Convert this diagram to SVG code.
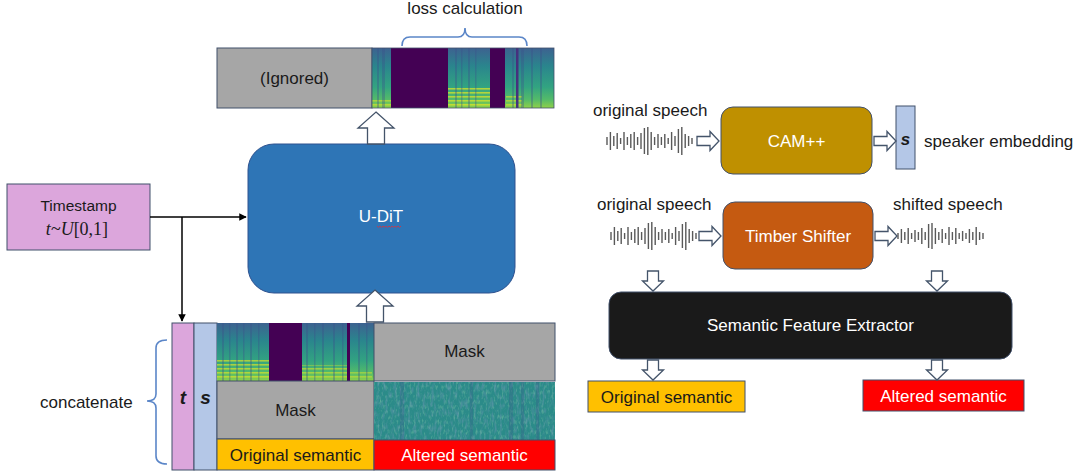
<svg xmlns="http://www.w3.org/2000/svg" width="1080" height="476" viewBox="0 0 1080 476">
<style>
  text { font-family: "Liberation Sans", Arial, sans-serif; font-size: 17px; fill: #1a1a1a; }
  .c { text-anchor: middle; }
  .w { fill: #ffffff; }
  .box { stroke: #41506b; stroke-width: 1; }
  .hollow { fill: #ffffff; stroke: #44546a; stroke-width: 1.3; stroke-linejoin: miter; }
  .brace { fill: none; stroke: #5b86c8; stroke-width: 1.6; }
  .wave { fill: none; stroke: #595959; stroke-width: 1.4; }
  .line { fill: none; stroke: #000; stroke-width: 1.5; }
  .bi { font-weight: bold; font-style: italic; font-size: 19px; }
  .stripe { fill: #3b528b; opacity: 0.35; }
</style>
<defs>
  <marker id="ah" viewBox="0 0 10 10" refX="9" refY="5" markerWidth="5" markerHeight="5" orient="auto">
    <path d="M0 0 L10 5 L0 10 Z" fill="#000"/>
  </marker>
  <linearGradient id="spec" x1="0" y1="0" x2="0" y2="1">
    <stop offset="0" stop-color="#3d6290"/>
    <stop offset="0.3" stop-color="#2a858d"/>
    <stop offset="0.65" stop-color="#32a381"/>
    <stop offset="0.86" stop-color="#54bb69"/>
    <stop offset="1" stop-color="#8fd148"/>
  </linearGradient>
  <pattern id="harm" width="6" height="4" patternUnits="userSpaceOnUse">
    <rect width="6" height="1.6" fill="#d8e22a"/>
  </pattern>
  <filter id="noise" x="0" y="0" width="100%" height="100%">
    <feTurbulence type="fractalNoise" baseFrequency="0.35 0.12" numOctaves="2" seed="4"/>
    <feColorMatrix type="matrix" values="0 0 0 0 0.24  0 0 0 0 0.33  0 0 0 0 0.55  1.6 0 0 0 -0.75"/>
  </filter>
  <filter id="noise2" x="0" y="0" width="100%" height="100%">
    <feTurbulence type="fractalNoise" baseFrequency="0.5 0.2" numOctaves="2" seed="9"/>
    <feColorMatrix type="matrix" values="0 0 0 0 0.35  0 0 0 0 0.72  0 0 0 0 0.45  0 1.6 0 0 -0.8"/>
  </filter>
  <path id="rarrow" d="M0 -4.5 H13 V-9.5 L22 0 L13 9.5 V4.5 H0 Z"/>
  <path id="darrow" d="M-5.5 0 H5.5 V10 H10.5 L0 20 L-10.5 10 H-5.5 Z"/>
  <path id="uarrow" d="M0 0 L18 16 H8.5 V32 H-8.5 V16 H-18 Z"/>
  <path id="waveA" d="M0 -4V4 M3.4 -9V9 M6.8 -5V5 M10.2 -8V8 M13.6 -3V3 M17 -9V9 M20.4 -4V4 M23.8 -7V7 M27.2 -9V9 M30.6 -4V4 M34 -8V8 M37.4 -13V13 M40.8 -14V14 M44.2 -9V9 M47.6 -4V4 M51 -7V7 M54.4 -4V4 M57.8 -7V7 M61.2 -3V3 M64.6 -9V9 M68 -5V5 M71.4 -12V12 M74.8 -14V14 M78.2 -7V7 M81.6 -5V5 M85 -3V3"/>
  <path id="waveB" d="M0 -3V3 M3.4 -7V7 M6.8 -4V4 M10.2 -8V8 M13.6 -3V3 M17 -6V6 M20.4 -4V4 M23.8 -8V8 M27.2 -4V4 M30.6 -12V12 M34 -13V13 M37.4 -8V8 M40.8 -4V4 M44.2 -7V7 M47.6 -3V3 M51 -9V9 M54.4 -4V4 M57.8 -8V8 M61.2 -3V3 M64.6 -5V5 M68 -3V3 M71.4 -7V7 M74.8 -4V4 M78.2 -9V9 M81.6 -4V4 M85 -3V3"/>
</defs>

<rect width="1080" height="476" fill="#ffffff"/>

<!-- Top output -->
<g id="output">
  <rect class="box" x="217" y="48" width="155" height="60" fill="#a6a6a6"/>
  <text class="c" x="294.5" y="84">(Ignored)</text>
  <g id="spec-top">
    <rect x="372" y="48" width="182" height="60" fill="url(#spec)"/>
    <rect x="448" y="86" width="42" height="21" fill="url(#harm)" opacity="0.75"/>
    <rect x="506" y="94" width="16" height="13" fill="url(#harm)" opacity="0.6"/>
    <rect x="372" y="100" width="19" height="7" fill="url(#harm)" opacity="0.6"/>
    <g class="stripe">
      <rect x="377" y="48" width="2" height="60"/>
      <rect x="382" y="48" width="3" height="60"/>
      <rect x="455" y="48" width="2" height="60"/>
      <rect x="461" y="48" width="1.5" height="60"/>
      <rect x="468" y="48" width="2" height="60"/>
      <rect x="475" y="48" width="1.5" height="60"/>
      <rect x="512" y="48" width="2" height="60"/>
      <rect x="521" y="48" width="3" height="60"/>
      <rect x="531" y="48" width="2" height="60"/>
      <rect x="540" y="48" width="2" height="60"/>
    </g>
    <rect x="391" y="48" width="57" height="60" fill="#440154"/>
    <rect x="490" y="48" width="15" height="60" fill="#440154"/>
    <rect x="516" y="48" width="2.5" height="60" fill="#46317e"/>
    <rect x="372" y="48" width="182" height="60" fill="none" stroke="#41506b" stroke-width="0.8"/>
  </g>
  <path class="brace" d="M402 46 Q402 37 410 37 H458 Q465 37 465 28 Q465 37 472 37 H519 Q527 37 527 46"/>
  <text class="c" x="465" y="14">loss calculation</text>
</g>

<!-- U-DiT -->
<g id="udit">
  <rect x="248" y="144" width="267" height="149" rx="26" fill="#2e75b6" stroke="#2f528f" stroke-width="1"/>
  <text class="c w" x="381" y="222">U-DiT</text>
  <path d="M377 226 l1.5 1.5 l1.5 -1.5 l1.5 1.5 l1.5 -1.5 l1.5 1.5 l1.5 -1.5 l1.5 1.5 l1.5 -1.5 l1.5 1.5 l1.5 -1.5 l1.5 1.5 l1.5 -1.5 l1.5 1.5 l1.5 -1.5 l1.5 1.5 l1.5 -1.5" fill="none" stroke="#e0303a" stroke-width="0.8"/>
</g>

<!-- Timestamp -->
<g id="timestamp">
  <rect class="box" x="7" y="184" width="143" height="66" fill="#dca6dc"/>
  <text class="c" x="78.5" y="211" style="font-size:15.5px">Timestamp</text>
  <text class="c" x="77" y="235" style="font-family:'Liberation Serif','DejaVu Serif',serif;font-size:18px"><tspan font-style="italic">t</tspan>~<tspan font-style="italic">U</tspan>[0,1]</text>
</g>

<!-- Input stack -->
<g id="input-stack">
  <rect class="box" x="172" y="323" width="22" height="147" fill="#dca6dc"/>
  <text class="c bi" x="183" y="404">t</text>
  <rect class="box" x="194" y="323" width="23" height="147" fill="#b4c7e7"/>
  <text class="c bi" x="205.5" y="404">s</text>
  <g id="spec-bottom">
    <rect x="217" y="323" width="157" height="58" fill="url(#spec)"/>
    <rect x="217" y="359" width="52" height="21" fill="url(#harm)" opacity="0.7"/>
    <rect x="302" y="365" width="45" height="15" fill="url(#harm)" opacity="0.6"/>
    <rect x="350" y="370" width="22" height="10" fill="url(#harm)" opacity="0.5"/>
    <g class="stripe">
      <rect x="222" y="323" width="2" height="58"/>
      <rect x="229" y="323" width="1.5" height="58"/>
      <rect x="236" y="323" width="2" height="58"/>
      <rect x="243" y="323" width="1.5" height="58"/>
      <rect x="250" y="323" width="2" height="58"/>
      <rect x="258" y="323" width="1.5" height="58"/>
      <rect x="306" y="323" width="2" height="58"/>
      <rect x="314" y="323" width="1.5" height="58"/>
      <rect x="322" y="323" width="2" height="58"/>
      <rect x="333" y="323" width="2" height="58"/>
      <rect x="342" y="323" width="1.5" height="58"/>
      <rect x="358" y="323" width="2" height="58"/>
      <rect x="366" y="323" width="1.5" height="58"/>
    </g>
    <rect x="269" y="323" width="33" height="58" fill="#440154"/>
    <rect x="347" y="323" width="3" height="58" fill="#440154"/>
  </g>
  <rect class="box" x="217" y="381" width="157" height="58" fill="#a6a6a6"/>
  <text class="c" x="295.5" y="416">Mask</text>
  <rect class="box" x="217" y="439" width="157" height="31" fill="#ffc000"/>
  <text class="c" x="295.5" y="461">Original semantic</text>
  <rect class="box" x="374" y="323" width="181" height="58" fill="#a6a6a6"/>
  <text class="c" x="464.5" y="357">Mask</text>
  <g id="spec-noise">
    <rect x="374" y="382" width="181" height="58" fill="#2b8b89"/>
    <rect x="374" y="382" width="181" height="58" filter="url(#noise2)" opacity="0.6"/>
    <rect x="374" y="382" width="181" height="58" filter="url(#noise)" opacity="0.65"/>
    <g fill="#3b528b" opacity="0.25">
      <rect x="400" y="382" width="4" height="58"/>
      <rect x="470" y="382" width="3" height="58"/>
      <rect x="509" y="382" width="4" height="58"/>
      <rect x="521" y="382" width="3" height="58"/>
      <rect x="536" y="382" width="3" height="58"/>
    </g>
  </g>
  <rect class="box" x="374" y="440" width="181" height="30" fill="#ff0000"/>
  <text class="c w" x="464.5" y="461">Altered semantic</text>
  <path class="brace" d="M167 340 Q156 340 156 348 V394 Q156 401 147 401 Q156 401 156 408 V456 Q156 464 167 464"/>
  <text x="40" y="408">concatenate</text>
</g>

<!-- Right side -->
<g id="cam">
  <text x="593" y="116">original speech</text>
  <use href="#waveA" class="wave" x="607" y="141"/>
  <rect x="721" y="107" width="151" height="67" rx="12" fill="#bf9000" stroke="#41506b" stroke-width="1"/>
  <text class="c w" x="796.5" y="147">CAM++</text>
  <rect class="box" x="896" y="106" width="19" height="63" fill="#b4c7e7"/>
  <text class="c bi" x="905.5" y="145" style="font-size:17px">s</text>
  <text x="924" y="147">speaker embedding</text>
</g>

<g id="shifter">
  <text x="597" y="210">original speech</text>
  <use href="#waveA" class="wave" x="611" y="236"/>
  <rect x="723" y="202" width="150" height="67" rx="12" fill="#c55a11" stroke="#41506b" stroke-width="1"/>
  <text class="c w" x="798" y="242">Timber Shifter</text>
  <text x="893" y="210">shifted speech</text>
  <use href="#waveB" class="wave" x="898" y="236"/>
</g>

<g id="extractor">
  <rect x="609" y="292" width="403" height="67" rx="12" fill="#1a1a1a" stroke="#41506b" stroke-width="1"/>
  <text class="c w" x="810.5" y="331">Semantic Feature Extractor</text>
</g>

<g id="orig-sem">
  <rect class="box" x="588" y="381" width="157" height="31" fill="#ffc000"/>
  <text class="c" x="666.5" y="403">Original semantic</text>
</g>
<g id="alt-sem">
  <rect class="box" x="863" y="380" width="161" height="31" fill="#ff0000"/>
  <text class="c w" x="943.5" y="402">Altered semantic</text>
</g>

<!-- Connectors -->
<g id="connectors">
  <path class="line" d="M150 217 H246" marker-end="url(#ah)"/>
  <path class="line" d="M182 217 V321" marker-end="url(#ah)"/>
  <use href="#uarrow" class="hollow" x="376" y="112"/>
  <use href="#uarrow" class="hollow" x="375" y="290"/>
  <use href="#rarrow" class="hollow" x="697" y="141"/>
  <use href="#rarrow" class="hollow" x="874" y="141"/>
  <use href="#rarrow" class="hollow" x="699" y="236"/>
  <use href="#rarrow" class="hollow" x="875" y="236"/>
  <use href="#darrow" class="hollow" x="653" y="271"/>
  <use href="#darrow" class="hollow" x="937" y="271"/>
  <use href="#darrow" class="hollow" x="653" y="360"/>
  <use href="#darrow" class="hollow" x="937" y="360"/>
</g>
</svg>
